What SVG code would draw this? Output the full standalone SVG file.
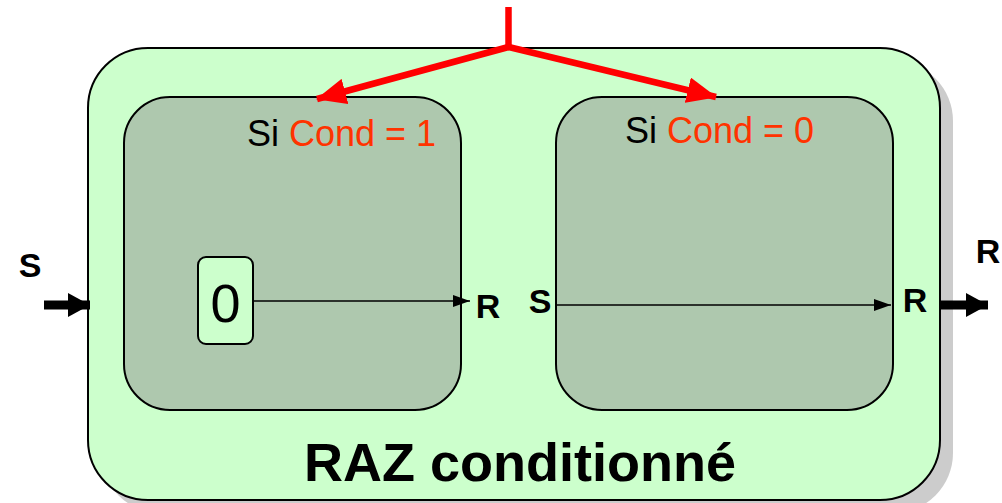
<svg xmlns="http://www.w3.org/2000/svg" width="1002" height="503" viewBox="0 0 1002 503">
<defs>
<style>
.lbl{font-family:"Liberation Sans",Arial,sans-serif;font-weight:bold;fill:#000;font-size:34px;text-anchor:middle}
.t{font-family:"Liberation Sans",Arial,sans-serif;font-size:36px;fill:#000}
.red{fill:#FF3300}
.inner{fill:#AEC8AE;stroke:#000;stroke-width:2}
.thin{stroke:#000;stroke-width:1.5;fill:none}
.thick{stroke:#000;stroke-width:9;fill:none}
.rl{stroke:#FF0000;stroke-width:6.5;fill:none}
</style>
<marker id="ah" markerWidth="17" markerHeight="12" refX="17" refY="6" orient="auto" markerUnits="userSpaceOnUse"><path d="M0,0 L17,6 L0,12 Z" fill="#000"/></marker>
<marker id="ahb" markerWidth="22" markerHeight="24" refX="22" refY="12" orient="auto" markerUnits="userSpaceOnUse"><path d="M0,0 L22,12 L0,24 Z" fill="#000"/></marker>
<marker id="ahr" markerWidth="30" markerHeight="26" refX="29" refY="13" orient="auto" markerUnits="userSpaceOnUse"><path d="M0,0 L30,13 L0,26 Z" fill="#FF0000"/></marker>
</defs>
<g id="outer">
<rect x="101" y="61" width="852" height="452" rx="60" fill="#CCCCCC"/>
<rect x="88" y="48" width="852" height="452" rx="60" fill="#CCFFCC" stroke="#000" stroke-width="2"/>
<text x="520" y="481" font-family="Liberation Sans,Arial,sans-serif" font-weight="bold" font-size="54" text-anchor="middle">RAZ conditionné</text>
</g>
<g id="box1">
<rect class="inner" x="124" y="97" width="337" height="313" rx="46"/>
<text class="t" x="247" y="146">Si <tspan class="red">Cond = 1</tspan></text>
</g>
<g id="box2">
<rect class="inner" x="556" y="97" width="337" height="313" rx="46"/>
<text class="t" x="625" y="143">Si <tspan class="red">Cond = 0</tspan></text>
</g>
<g id="zero">
<rect x="198" y="257" width="55" height="87" rx="8" fill="#CCFFCC" stroke="#000" stroke-width="2"/>
<text x="225.5" y="322" font-family="Liberation Sans,Arial,sans-serif" font-size="54" text-anchor="middle">0</text>
</g>
<g id="labels">
<text class="lbl" x="30" y="277">S</text>
<text class="lbl" x="488" y="318">R</text>
<text class="lbl" x="540" y="313">S</text>
<text class="lbl" x="915" y="312">R</text>
<text class="lbl" x="988" y="263">R</text>
</g>
<g id="connectors">
<line class="thin" x1="253" y1="301" x2="470" y2="301" marker-end="url(#ah)"/>
<line class="thin" x1="556" y1="305" x2="891" y2="305" marker-end="url(#ah)"/>
<line class="thick" x1="44" y1="305" x2="90" y2="305" marker-end="url(#ahb)"/>
<line class="thick" x1="941" y1="305" x2="988" y2="305" marker-end="url(#ahb)"/>
<line class="rl" x1="508.5" y1="7" x2="508.5" y2="48"/>
<line class="rl" x1="508.5" y1="47" x2="317" y2="99" marker-end="url(#ahr)"/>
<line class="rl" x1="508.5" y1="47" x2="716" y2="97" marker-end="url(#ahr)"/>
</g>
</svg>
